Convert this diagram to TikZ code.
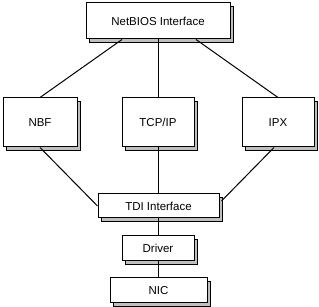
\documentclass[tikz,border=0pt]{standalone}
\usepackage{fontspec}
\setmainfont{Liberation Sans}
\usetikzlibrary{shadows}

\begin{document}
\begin{tikzpicture}[x=1pt, y=-1pt, line width=1pt,
  layer/.style={draw, fill=white, inner sep=0pt, font=\fontsize{11.5}{13}\selectfont,
    drop shadow={shadow xshift=3pt, shadow yshift=-3pt, fill=gray!50,
      draw=black, line width=0.7pt, opacity=1}}]

% Canvas (pixel units of the figure)
\useasboundingbox (0,0) rectangle (319,307);

% Top layer
\node[layer, minimum width=144pt, minimum height=36pt] (netbios) at (158,21) {NetBIOS Interface};

% Transport protocols
\node[layer, minimum width=74pt, minimum height=49pt] (nbf) at (40,122.5) {NBF};
\node[layer, minimum width=72pt, minimum height=49pt] (tcpip) at (158,122.5) {TCP/IP};
\node[layer, minimum width=72pt, minimum height=49pt] (ipx) at (278,122.5) {IPX};

% Lower layers
\node[layer, minimum width=121pt, minimum height=24pt] (tdi) at (158.5,206) {TDI Interface};
\node[layer, minimum width=72pt, minimum height=25pt] (driver) at (158,248.5) {Driver};
\node[layer, minimum width=97pt, minimum height=25pt] (nic) at (158.5,290.5) {NIC};

% Connections
\draw ([xshift=-36pt]netbios.south) -- (nbf.north);
\draw (netbios.south) -- (tcpip.north);
\draw ([xshift=38pt]netbios.south) -- (ipx.north);

\draw (nbf.south) -- (tdi.west);
\draw (tcpip.south) -- (tcpip.south |- tdi.north);
\draw ([xshift=-4pt]ipx.south) -- ([xshift=2pt,yshift=5pt]tdi.east);

\draw (tdi.south -| driver.north) -- (driver.north);
\draw (driver.south) -- (driver.south |- nic.north);
\end{tikzpicture}
\end{document}
